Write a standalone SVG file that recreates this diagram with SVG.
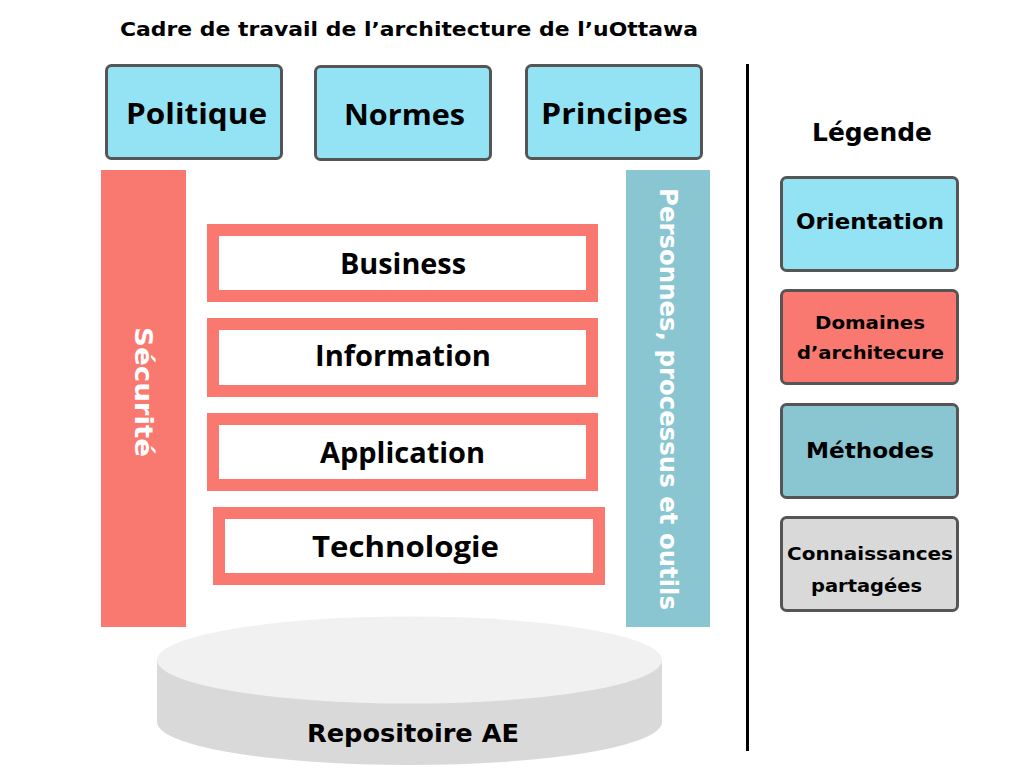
<svg xmlns="http://www.w3.org/2000/svg" width="1024" height="768" viewBox="0 0 1024 768">
<style>
text{font-family:"Open Sans","Noto Sans","Liberation Sans",sans-serif;font-weight:700;fill:#000;text-anchor:middle;dominant-baseline:central}
.d{font-family:"DejaVu Sans","Liberation Sans",sans-serif}
.orient{fill:#94E3F4;stroke:#555;stroke-width:3}
.leg{stroke:#555;stroke-width:3}
.layer{fill:#fff;stroke:#F97870;stroke-width:12}
.w{fill:#fff}
</style>
<rect width="1024" height="768" fill="#fff"/>
<text id="title" class="d" x="409" y="29" font-size="19" textLength="578" lengthAdjust="spacingAndGlyphs">Cadre de travail de l’architecture de l’uOttawa</text>
<g id="politique"><rect class="orient" x="106.5" y="65.5" width="175" height="93" rx="5"/><text x="196.5" y="112" font-size="29" textLength="141" lengthAdjust="spacingAndGlyphs">Politique</text></g>
<g id="normes"><rect class="orient" x="315.5" y="66.5" width="175" height="93" rx="5"/><text x="404.5" y="113" font-size="29" textLength="121" lengthAdjust="spacingAndGlyphs">Normes</text></g>
<g id="principes"><rect class="orient" x="526.5" y="65.5" width="175" height="93" rx="5"/><text x="614.5" y="112" font-size="29" textLength="147" lengthAdjust="spacingAndGlyphs">Principes</text></g>
<g id="securite"><rect x="101" y="170" width="85" height="457" fill="#F97870"/><text class="d w" x="0" y="0" font-size="25" textLength="130" lengthAdjust="spacingAndGlyphs" transform="translate(143 392) rotate(90)">Sécurité</text></g>
<g id="personnes"><rect x="626" y="170" width="84" height="457" fill="#8AC6D1"/><text class="d w" x="0" y="0" font-size="24" textLength="422" lengthAdjust="spacingAndGlyphs" transform="translate(668 399) rotate(90)">Personnes, processus et outils</text></g>
<g id="business"><rect class="layer" x="213" y="230" width="379" height="66"/><text x="403" y="263" font-size="28" textLength="126" lengthAdjust="spacingAndGlyphs">Business</text></g>
<g id="information"><rect class="layer" x="213" y="324" width="379" height="67"/><text x="403" y="355" font-size="28" textLength="176" lengthAdjust="spacingAndGlyphs">Information</text></g>
<g id="application"><rect class="layer" x="213" y="419" width="379" height="66"/><text x="402.5" y="452" font-size="28" textLength="165" lengthAdjust="spacingAndGlyphs">Application</text></g>
<g id="technologie"><rect class="layer" x="219" y="513" width="380" height="66"/><text x="405.5" y="545" font-size="29" textLength="187" lengthAdjust="spacingAndGlyphs">Technologie</text></g>
<g id="repositoire">
<path d="M157 660 L157 722 A252.5 43 0 0 0 662 722 L662 660 Z" fill="#D9D9D9"/>
<ellipse cx="409.5" cy="660" rx="252.5" ry="43.5" fill="#F0F1F0"/>
<text class="d" x="413" y="733" font-size="25" textLength="212" lengthAdjust="spacingAndGlyphs">Repositoire AE</text>
</g>
<g id="connectors"><line x1="747.5" y1="64" x2="747.5" y2="751" stroke="#000" stroke-width="3"/></g>
<g id="legende">
<text class="d" x="872" y="133" font-size="24" textLength="120" lengthAdjust="spacingAndGlyphs">Légende</text>
<g id="leg-orientation"><rect class="leg" x="781.5" y="177.5" width="176" height="93" rx="5" fill="#94E3F4"/><text class="d" x="870" y="222" font-size="21" textLength="148" lengthAdjust="spacingAndGlyphs">Orientation</text></g>
<g id="leg-domaines"><rect class="leg" x="781.5" y="290.5" width="176" height="93" rx="5" fill="#F97870"/><text class="d" x="870" y="322" font-size="18" textLength="110" lengthAdjust="spacingAndGlyphs">Domaines</text><text class="d" x="870.5" y="352" font-size="18" textLength="147" lengthAdjust="spacingAndGlyphs">d’architecure</text></g>
<g id="leg-methodes"><rect class="leg" x="781.5" y="404.5" width="176" height="93" rx="5" fill="#8AC6D1"/><text class="d" x="870" y="451" font-size="21" textLength="128" lengthAdjust="spacingAndGlyphs">Méthodes</text></g>
<g id="leg-connaissances"><rect class="leg" x="781.5" y="517.5" width="176" height="93" rx="5" fill="#D9D9D9"/><text class="d" x="870" y="553" font-size="18" textLength="166" lengthAdjust="spacingAndGlyphs">Connaissances</text><text class="d" x="866.5" y="585" font-size="18" textLength="111" lengthAdjust="spacingAndGlyphs">partagées</text></g>
</g>
</svg>
